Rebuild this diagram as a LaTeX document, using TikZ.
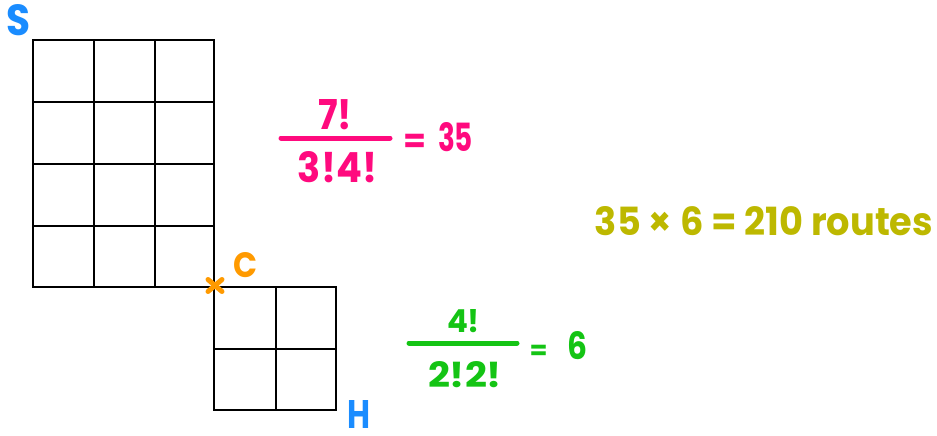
\documentclass[tikz,border=0pt]{standalone}
\usepackage{fontspec}
\usepackage{graphicx}
\newfontfamily\hand{Poppins}
\definecolor{sblue}{HTML}{1A8CFF}
\definecolor{corange}{HTML}{FF9A00}
\definecolor{fpink}{HTML}{FF0A7E}
\definecolor{fgreen}{HTML}{14C414}
\definecolor{folive}{HTML}{BDB800}
\newcommand{\hw}[3]{\resizebox{#1pt}{#2pt}{\hand\bfseries #3}}
\newcommand{\hweq}[1]{\resizebox{#1pt}{!}{\hand\bfseries =}}
\tikzset{
  gridline/.style={line width=2pt, black},
  lbl/.style={inner sep=0pt, anchor=center},
  eqlbl/.style={inner sep=0pt, anchor=base},
  fracbar/.style={line width=5pt, line cap=round},
  crossmark/.style={line width=5pt, line cap=round, corange}
}
\begin{document}
\begin{tikzpicture}[x=1pt, y=-1pt]
\useasboundingbox (0,0) rectangle (937,436);
% big grid S -> C
\draw[gridline] (33,40) rectangle (214,287);
\foreach \x in {94,155} \draw[gridline] (\x,40) -- (\x,287);
\foreach \y in {102,164,226} \draw[gridline] (33,\y) -- (214,\y);
% small grid C -> H
\draw[gridline] (214,287) rectangle (336,410);
\draw[gridline] (276,287) -- (276,410);
\draw[gridline] (214,349) -- (336,349);
% labels
\node[lbl, text=sblue] (S) at (19,20.5) {\hw{24}{31}{S}};
\node[lbl, text=corange] (C) at (245,265.5) {\hw{24}{25}{C}};
\node[lbl, text=sblue] (H) at (358.5,414.5) {\hw{23}{28}{H}};
% cross at C
\coordinate (X) at (215,285.5);
\draw[crossmark] ([shift={(-7,-6)}]X) -- ([shift={(7,6)}]X);
\draw[crossmark] ([shift={(-7,6)}]X) -- ([shift={(7,-6)}]X);
% pink fraction
\node[lbl, text=fpink] (n1) at (335,115) {\hw{34}{30}{7!}};
\coordinate (b1l) at (281,138);
\coordinate (b1r) at (390,138);
\draw[fracbar, fpink] (b1l) -- (b1r);
\node[lbl, text=fpink] (d1) at (337.5,167.5) {\hw{79}{31}{3!4!}};
\node[eqlbl, text=fpink] (e1) at (414.5,152) {\hweq{23}};
\node[lbl, text=fpink] (r1) at (455.5,137.5) {\hw{35}{29}{35}};
% green fraction
\node[lbl, text=fgreen] (n2) at (463.5,321.5) {\hw{33}{23}{4!}};
\coordinate (b2l) at (409,343);
\coordinate (b2r) at (517,343);
\draw[fracbar, fgreen] (b2l) -- (b2r);
\node[lbl, text=fgreen] (d2) at (465,375) {\hw{74}{26}{2!2!}};
\node[eqlbl, text=fgreen] (e2) at (538.5,359) {\hweq{18}};
\node[lbl, text=fgreen] (r2) at (577,346) {\hw{20}{28}{6}};
% olive result
\node[lbl, text=folive] (res) at (764,221) {\hw{338}{29}{35 × 6 = 210 routes}};
\end{tikzpicture}
\end{document}
